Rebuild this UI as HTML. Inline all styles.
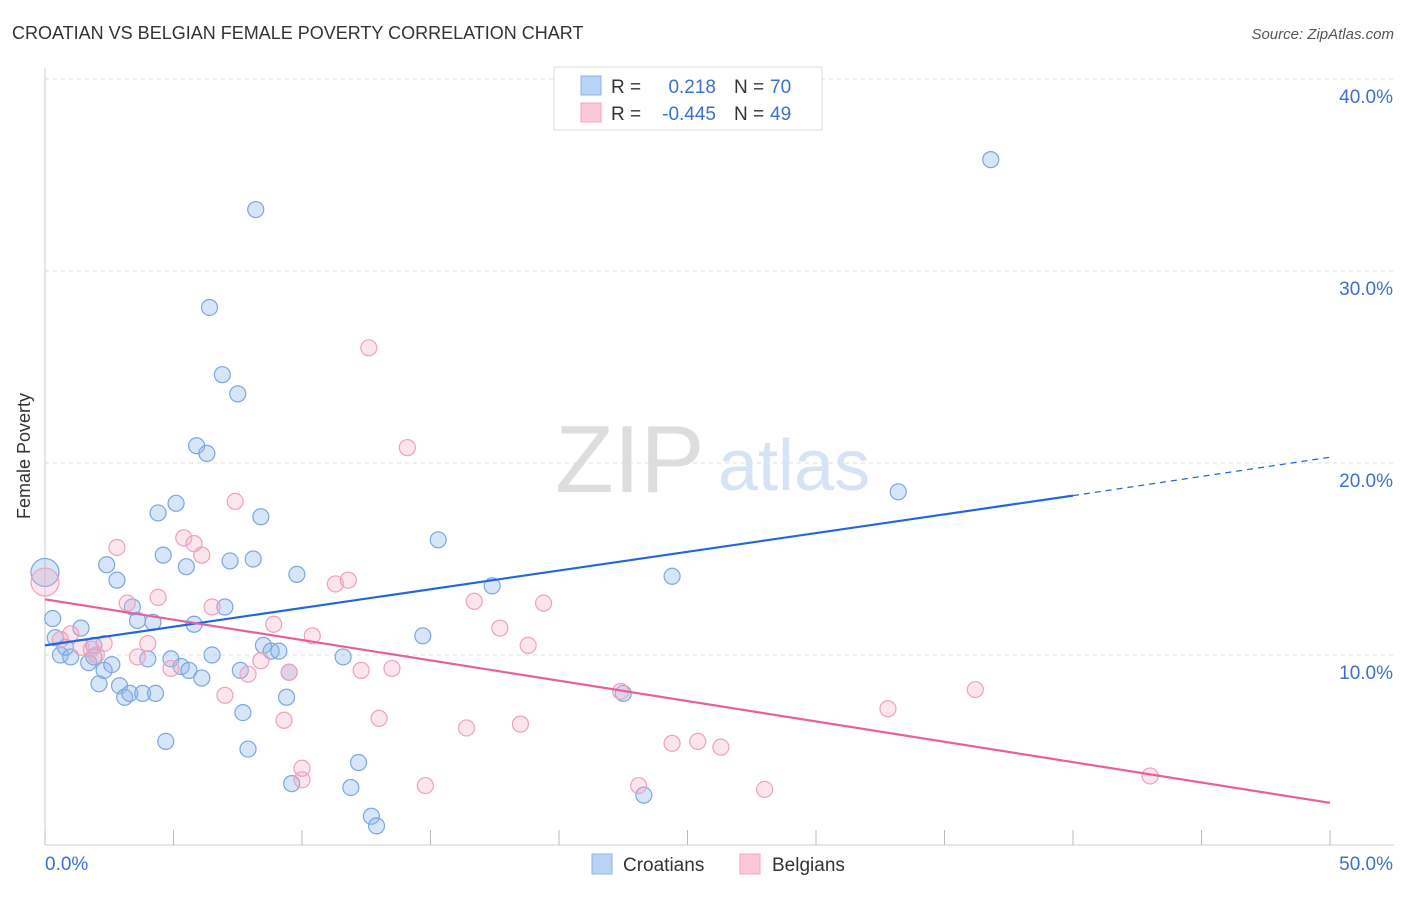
<!DOCTYPE html>
<html><head><meta charset="utf-8"><style>
body{margin:0;background:#fff;font-family:"Liberation Sans",sans-serif;}
svg text{font-family:"Liberation Sans",sans-serif;}
</style></head><body>
<svg width="1406" height="892" xmlns="http://www.w3.org/2000/svg">
<text x="12" y="39" font-size="18" fill="#333">CROATIAN VS BELGIAN FEMALE POVERTY CORRELATION CHART</text>
<text x="1394" y="39" font-size="15" fill="#555" text-anchor="end" font-style="italic">Source: ZipAtlas.com</text>
<text x="30" y="456" font-size="18" fill="#333" transform="rotate(-90 30 456)" text-anchor="middle">Female Poverty</text>
<g id="grid"></g>
<line x1="45" y1="68" x2="45" y2="845" stroke="#ccc"/>
<line x1="45" y1="845" x2="1394" y2="845" stroke="#ccc"/>
<g id="xticks"></g>
<text x="555" y="492" font-size="96" fill="#ddd" font-family="Liberation Serif">ZIP</text>
<text x="718" y="490" font-size="72" fill="#d5e3f5">atlas</text>
<g id="pts"></g>
<g id="lines"></g>
<g>
<rect x="554" y="67" width="268" height="63" fill="#fff" stroke="#ddd"/>
<rect x="581" y="76" width="20" height="19" fill="#b9d3f5" stroke="#8ab3ea"/>
<rect x="581" y="103" width="20" height="19" fill="#fbc8d8" stroke="#f2a5c0"/>
<text x="611" y="93" font-size="19" fill="#333">R = </text><text x="716" y="93" font-size="19" fill="#3b70d0" text-anchor="end">0.218</text>
<text x="734" y="93" font-size="19" fill="#333">N = </text><text x="770" y="93" font-size="19" fill="#3b70d0">70</text>
<text x="611" y="120" font-size="19" fill="#333">R = </text><text x="716" y="120" font-size="19" fill="#3b70d0" text-anchor="end">-0.445</text>
<text x="734" y="120" font-size="19" fill="#333">N = </text><text x="770" y="120" font-size="19" fill="#3b70d0">49</text>
</g>
<g>
<rect x="592" y="854" width="20" height="20" fill="#b9d3f5" stroke="#8ab3ea"/>
<text x="623" y="871" font-size="19" fill="#333">Croatians</text>
<rect x="740" y="854" width="20" height="20" fill="#fbc8d8" stroke="#f2a5c0"/>
<text x="772" y="871" font-size="19" fill="#333">Belgians</text>
</g>
</svg>
<script>
const yTicks=[10,20,30,40];
const xTickLabels=["0.0%","50.0%"];
const blueX=[0,0.3,0.4,0.6,0.8,1.0,1.4,1.7,1.9,1.9,2.1,2.3,2.4,2.6,2.8,2.9,3.1,3.3,3.4,3.6,3.8,4.0,4.2,4.3,4.4,4.6,4.7,4.9,5.1,5.3,5.5,5.6,5.8,5.9,6.1,6.3,6.4,6.5,6.9,7.0,7.2,7.5,7.6,7.7,7.9,8.1,8.2,8.4,8.5,8.8,9.1,9.4,9.5,9.6,9.8,11.6,11.9,12.2,12.7,12.9,14.7,15.3,17.4,22.5,23.3,24.4,33.2,36.8];
const blueY=[14.3,11.9,10.9,10.0,10.4,9.9,11.4,9.6,10.5,9.9,8.5,9.2,14.7,9.5,13.9,8.4,7.8,8.0,12.5,11.8,8.0,9.8,11.7,8.0,17.4,15.2,5.5,9.8,17.9,9.4,14.6,9.2,11.6,20.9,8.8,20.5,28.1,10.0,24.6,12.5,14.9,23.6,9.2,7.0,5.1,15.0,33.2,17.2,10.5,10.2,10.2,7.8,9.1,3.3,14.2,9.9,3.1,4.4,1.6,1.1,11.0,16.0,13.6,8.0,2.7,14.1,18.5,35.8];
const pinkX=[0,0.6,1.0,1.4,1.8,2.0,2.3,2.8,3.2,3.6,4.0,4.4,4.9,5.4,5.8,6.1,6.5,7.0,7.4,7.9,8.4,8.9,9.3,9.5,10.0,10.4,10.0,11.3,11.8,12.3,12.6,13.0,13.5,14.1,14.8,16.4,16.7,17.7,18.5,18.8,19.4,22.4,23.1,24.4,25.4,26.3,28.0,32.8,36.2,43.0];
const pinkY=[13.8,10.8,11.1,10.4,10.3,10.0,10.6,15.6,12.7,9.9,10.6,13.0,9.3,16.1,15.8,15.2,12.5,7.9,18.0,9.0,9.7,11.6,6.6,9.1,3.5,11.0,4.1,13.7,13.9,9.2,26.0,6.7,9.3,20.8,3.2,6.2,12.8,11.4,6.4,10.5,12.7,8.1,3.2,5.4,5.5,5.2,3.0,7.2,8.2,3.7];
const NS="http://www.w3.org/2000/svg";
const sx=v=>45+v*25.7, sy=v=>847-v*19.2;
function mk(tag,a,p){const e=document.createElementNS(NS,tag);for(const k in a)e.setAttribute(k,a[k]);document.getElementById(p).appendChild(e);return e;}
yTicks.forEach(t=>{
 const l=mk('line',{x1:45,x2:1394,y1:sy(t),y2:sy(t),stroke:'#ddd','stroke-dasharray':'4,4'},'grid');
 
 
 const tx=mk('text',{x:1393,y:sy(t)+24,'font-size':19,fill:'#3b70d0','text-anchor':'end'},'grid');
 tx.textContent=t.toFixed(1)+'%';
 
 
});
for(let i=0;i<=10;i++){
 const l=mk('line',{x1:sx(i*5),x2:sx(i*5),y1:830,y2:845,stroke:'#bbb'},'xticks');
 
 
}
xTickLabels.forEach((s,i)=>{
 const t=mk('text',{x:i?1393:45,y:870,'font-size':19,fill:'#3b70d0','text-anchor':i?'end':'start'},'xticks');
 t.textContent=s;
 
 
});
blueX.forEach((x,i)=>{
 const c=mk('circle',{cx:sx(x),cy:sy(blueY[i]),r:i==0?14:8,fill:'rgba(140,180,235,0.35)',stroke:'#7aa7e0','stroke-width':1.2},'pts');
 
 
});
pinkX.forEach((x,i)=>{
 const c=mk('circle',{cx:sx(x),cy:sy(pinkY[i]),r:i==0?14:8,fill:'rgba(245,170,195,0.3)',stroke:'#f0a0bc','stroke-width':1.2},'pts');
 
 
});
const bl=mk('line',{x1:sx(0),y1:sy(10.5),x2:sx(40),y2:sy(18.3),stroke:'#2266dd','stroke-width':2.2},'lines');


const bd=mk('line',{x1:sx(40),y1:sy(18.3),x2:sx(50),y2:sy(20.3),stroke:'#2266dd','stroke-width':1.2,'stroke-dasharray':'6,5'},'lines');


const pl=mk('line',{x1:sx(0),y1:sy(12.9),x2:sx(50),y2:sy(2.3),stroke:'#e8609a','stroke-width':2.2},'lines');


</script>
</body></html>
